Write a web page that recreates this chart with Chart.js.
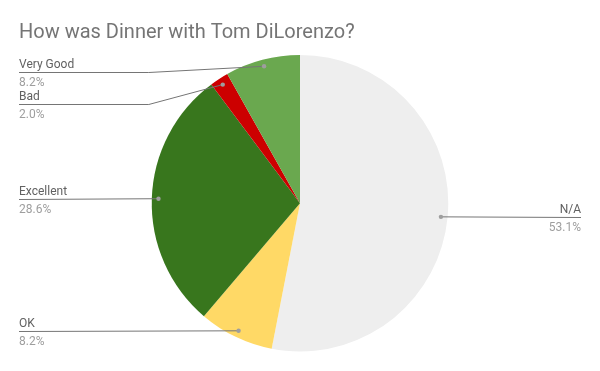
<!DOCTYPE html>
<html>
<head>
<meta charset="utf-8">
<script src="https://cdn.jsdelivr.net/npm/chart.js@4/dist/chart.umd.min.js"></script>
<style>
  html, body { margin: 0; padding: 0; background: #fff; }
  #wrap { width: 600px; height: 371px; position: relative; }
</style>
</head>
<body>
<div id="wrap"><canvas id="c" width="600" height="371"></canvas></div>
<script>
const chartTitle = "How was Dinner with Tom DiLorenzo?";
const categories = ["N/A", "OK", "Excellent", "Bad", "Very Good"];
const responses = [26, 4, 14, 1, 4];
const sliceColors = ["#eeeeee", "#ffd966", "#38761d", "#cc0000", "#6aa84f"];

const total = responses.reduce((a, b) => a + b, 0);
const percentLabels = responses.map(v => (v / total * 100).toFixed(1) + "%");

const labelPlugin = {
  id: "sheetLabels",
  afterDraw(chart) {
    const ctx = chart.ctx;
    ctx.save();
    // title
    ctx.font = "20px Roboto";
    ctx.fillStyle = "#757575";
    ctx.textAlign = "left";
    ctx.textBaseline = "alphabetic";
    ctx.fillText(chartTitle, 19, 37.5);

    const meta = chart.getDatasetMeta(0);
    const items = meta.data.map((arc, i) => {
      const mid = (arc.startAngle + arc.endAngle) / 2;
      const r = arc.outerRadius * 0.955;
      return {
        i, arc,
        dx: arc.x + Math.cos(mid) * r,
        dy: arc.y + Math.sin(mid) * r,
        left: Math.cos(mid) < 0
      };
    });
    const top = chart.chartArea.top + 16.5;
    const gap = 32;
    ["left", "right"].forEach(side => {
      const list = items.filter(it => (side === "left") === it.left).sort((a, b) => a.dy - b.dy);
      let prev = -Infinity;
      list.forEach(it => {
        it.ly = Math.max(it.dy, prev + gap, top);
        prev = it.ly;
      });
    });
    items.forEach(it => {
      const arc = it.arc;
      const R = arc.outerRadius;
      const ly = Math.round(it.ly) + 0.5;
      ctx.strokeStyle = "#757575";
      ctx.lineWidth = 1;
      ctx.beginPath();
      if (it.left) {
        const elbowX = arc.x - R - 3;
        ctx.moveTo(19, ly);
        if (Math.abs(it.ly - it.dy) > 1) {
          ctx.lineTo(elbowX, ly);
        }
        ctx.lineTo(it.dx, it.dy);
      } else {
        const elbowX = arc.x + R + 3;
        ctx.moveTo(581, ly);
        if (Math.abs(it.ly - it.dy) > 1) {
          ctx.lineTo(elbowX, ly);
        }
        ctx.lineTo(it.dx, it.dy);
      }
      ctx.stroke();
      ctx.fillStyle = "#9e9e9e";
      ctx.beginPath();
      ctx.arc(it.dx, it.dy, 2.2, 0, Math.PI * 2);
      ctx.fill();

      const tx = it.left ? 19 : 581;
      ctx.textAlign = it.left ? "left" : "right";
      ctx.font = "12px Roboto";
      ctx.fillStyle = "#616161";
      ctx.fillText(categories[it.i], tx, it.ly - 4);
      ctx.fillStyle = "#9e9e9e";
      ctx.fillText(percentLabels[it.i], tx, it.ly + 14);
    });
    ctx.restore();
  }
};

new Chart(document.getElementById("c"), {
  type: "pie",
  data: {
    labels: categories,
    datasets: [{
      data: responses,
      backgroundColor: sliceColors,
      borderWidth: 0
    }]
  },
  options: {
    responsive: false,
    animation: false,
    layout: { padding: { top: 55, bottom: 19.5, left: 0, right: 0 } },
    plugins: {
      legend: { display: false },
      tooltip: { enabled: false },
      title: { display: false }
    }
  },
  plugins: [labelPlugin]
});
</script>
</body>
</html>
